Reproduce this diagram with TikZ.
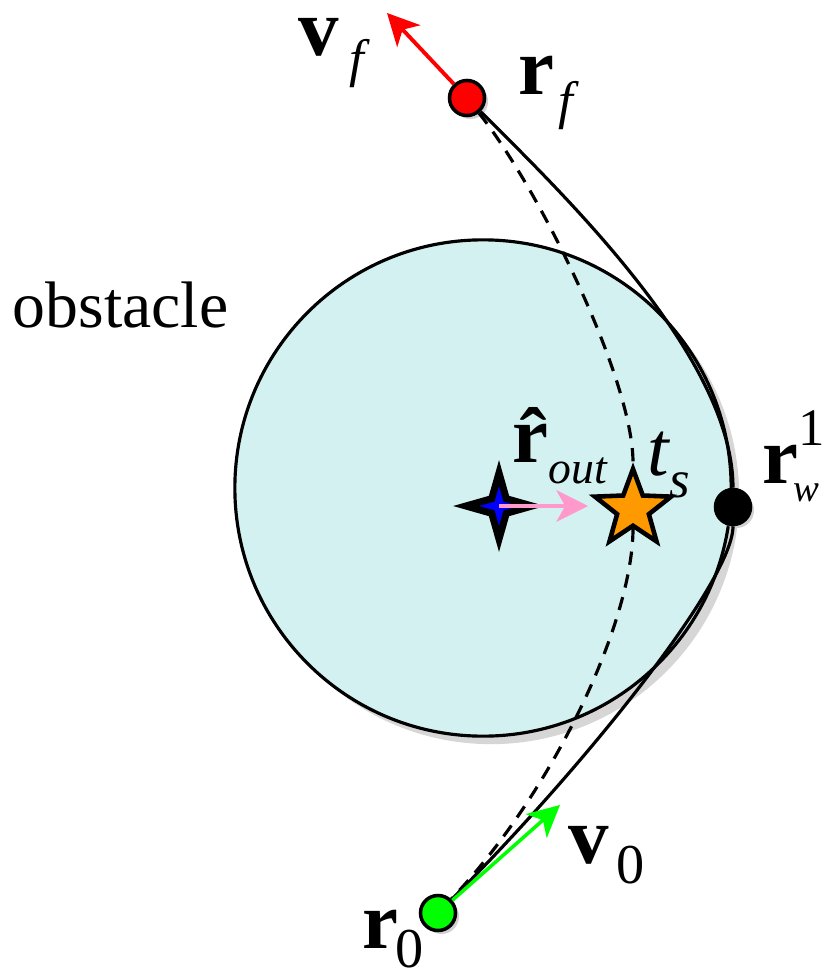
\documentclass[tikz,border=0pt]{standalone}
\usepackage{fontspec}
\setmainfont{Liberation Serif}
\usetikzlibrary{arrows.meta,shapes.geometric,shadows}
\definecolor{obsfill}{HTML}{D4F1F1}
\definecolor{starorange}{HTML}{FF9900}
\definecolor{outpink}{HTML}{FF99CC}
\newcommand{\bv}[1]{{\fontsize{23}{23}\selectfont\bfseries #1}}
\newcommand{\sbs}[3][15]{\raisebox{-#2}{\fontsize{#1}{#1}\selectfont\itshape #3}}
\newcommand{\sbn}[2]{\raisebox{-#1}{\fontsize{16}{16}\selectfont #2}}

\begin{document}
\begin{tikzpicture}[x=0.01cm, y=-0.01cm,
  dot/.style={circle, draw, line width=1pt, minimum size=0.35cm, inner sep=0pt,
    drop shadow={shadow xshift=0.035cm, shadow yshift=-0.035cm, fill=black!18, opacity=1}},
  lbl/.style={anchor=base west, inner sep=0pt},
  vel/.style={line width=1.1pt, -{Stealth[length=9pt, width=9pt, inset=2.5pt]}},
  traj/.style={line width=0.9pt}]
  \useasboundingbox (0,0) rectangle (825,976);
  % the obstacle
  \node[circle, draw, line width=0.9pt, fill=obsfill, minimum size=4.96cm, inner sep=0pt,
    drop shadow={shadow xshift=0.08cm, shadow yshift=-0.08cm, fill=black!16, opacity=1}] (obs) at (483,488) {};
  \node[lbl] (obslbl) at (12,327) {\fontsize{18.7}{18.7}\selectfont obstacle};
  % end points, way point and stars
  \node[dot, fill=red] (rf) at (467,98) {};
  \node[dot, fill=green] (r0) at (438,913) {};
  \node[dot, fill=black] (rw) at (733,507) {};
  \node[star, star points=5, star point ratio=2.4, draw, line width=1.3pt, fill=starorange,
    minimum size=0.8cm, inner sep=0pt] (ts) at (633,509) {};
  \node[star, star points=4, star point ratio=3.2, draw, line width=2pt, fill=blue,
    minimum size=0.66cm, inner sep=0pt] (rc) at (499,506) {};
  % trajectories
  \draw[traj, dash pattern=on 3.8pt off 2.8pt] (rf) .. controls (540,190) and (633,380) .. (ts)
    .. controls (633,620) and (555,790) .. (r0);
  \draw[traj] (rf) .. controls (562,193) and (733,357) .. (rw)
    .. controls (733,580) and (588,763) .. (r0);
  % velocities
  \coordinate (vf) at (387,13); \coordinate (v0) at (560,805); \coordinate (out) at (588,506);
  \draw[vel, red] (rf) -- (vf);
  \draw[vel, green, line width=1pt] (r0) -- (v0);
  \draw[vel, outpink, line width=1pt] (rc.center) -- (out);
  % labels
  \node[lbl] (vflbl) at (298,56) {\bv{v}\hspace{3pt}\sbs{5.7pt}{f}};
  \node[lbl] (rflbl) at (518,95) {\bv{r}\hspace{1pt}\sbs{6.8pt}{f}};
  \node[lbl] (rwlbl) at (762,483) {\bv{r}\hspace{-1.5pt}\rlap{\hspace{1.5pt}\raisebox{10.8pt}{\fontsize{15}{15}\selectfont 1}}\sbs[11]{5.2pt}{w}};
  \node[lbl] (r0lbl) at (362,948) {\bv{r}\hspace{-1pt}\sbn{5.6pt}{0}};
  \node[lbl] (v0lbl) at (568,863) {\bv{v}\hspace{2pt}\sbn{5.7pt}{0}};
  \node[lbl] (routlbl) at (512,462) {\bv{\^r}\sbs[13]{6pt}{out}};
  \node[lbl] (tslbl) at (647,475) {{\fontsize{22}{22}\selectfont\itshape t}\sbs{6.3pt}{s}};
\end{tikzpicture}
\end{document}
